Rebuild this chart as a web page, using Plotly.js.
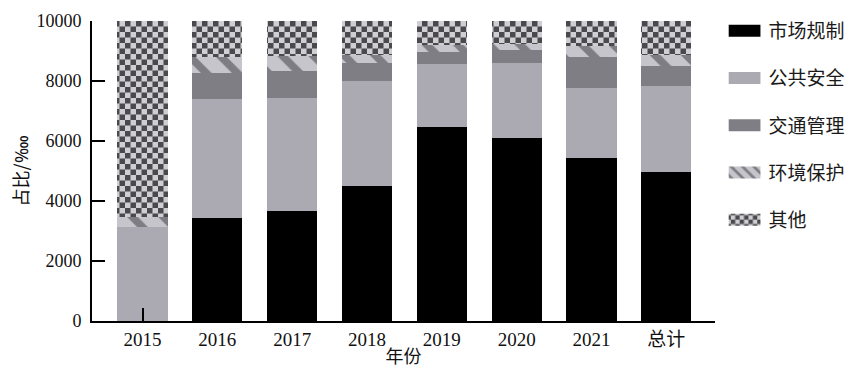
<!DOCTYPE html>
<html>
<head>
<meta charset="utf-8">
<script src="https://cdn.plot.ly/plotly-3.0.1.min.js"></script>
<style>
  html, body { margin: 0; padding: 0; background: #fff; }
  #chart { width: 850px; height: 368px; }
</style>
</head>
<body>
<div id="chart"></div>
<script>
const categories = ['2015', '2016', '2017', '2018', '2019', '2020', '2021', '总计'];
const seriesNames = ['市场规制', '公共安全', '交通管理', '环境保护', '其他'];
const market  = [0,    3420, 3670, 4510, 6480, 6110, 5420, 4980];
const safety  = [3120, 3970, 3760, 3500, 2090, 2480, 2340, 2850];
const traffic = [0,    890,  890,  580,  410,  440,  1050, 680];
const envir   = [340,  530,  500,  280,  220,  220,  360,  360];
const other   = [6540, 1190, 1180, 1130, 800,  750,  830,  1130];
const yTicks  = [0, 2000, 4000, 6000, 8000, 10000];

const serif = 'Liberation Serif, Times New Roman, Noto Sans CJK SC, serif';
const cjk = 'Noto Sans CJK SC, sans-serif';

function bar(name, values, marker) {
  return {
    type: 'bar', name: name, x: categories, y: values,
    legendgroup: name,
    marker: Object.assign({ line: { width: 0 } }, marker),
    hoverinfo: 'skip'
  };
}

const data = [
  bar(seriesNames[0], market, { color: '#000000' }),
  bar(seriesNames[1], safety, { color: '#abaab2' }),
  bar(seriesNames[2], traffic, { color: '#7f7e84' }),
  bar(seriesNames[3], envir, {
    color: '#c6c5cb',
    pattern: { shape: '\\', bgcolor: '#c6c5cb', fgcolor: '#7e7d83', size: 22, solidity: 0.35, fillmode: 'replace' }
  }),
  bar(seriesNames[4], other, {
    color: '#cfcfd3',
    pattern: { shape: '.', bgcolor: '#cfcfd3', fgcolor: '#4a4a4e', size: 11, solidity: 0.5, fillmode: 'replace' }
  })
];

const layout = {
  width: 850, height: 368,
  margin: { l: 92, r: 135, t: 21, b: 47 },
  paper_bgcolor: '#ffffff', plot_bgcolor: '#ffffff',
  barmode: 'stack', bargap: 0.33,
  showlegend: true,
  legend: {
    xref: 'container', yref: 'container',
    x: 0.857, xanchor: 'left', y: 0.9674, yanchor: 'top',
    maxheight: 1,
    traceorder: 'grouped', tracegroupgap: 19.5,
    font: { family: cjk, size: 19, color: '#1a1a1a' },
    bgcolor: 'rgba(0,0,0,0)'
  },
  xaxis: {
    type: 'category', range: [-0.675, 7.65],
    showline: true, linecolor: '#000', linewidth: 2,
    ticks: 'inside', ticklen: 13, tickwidth: 2, tickcolor: '#000',
    showgrid: false, zeroline: false,
    tickfont: { family: serif, size: 19, color: '#111' },
    title: { text: '年份', font: { family: cjk, size: 18, color: '#111' }, standoff: 16 }
  },
  yaxis: {
    range: [0, 10000], tickvals: yTicks, ticktext: yTicks.map(String),
    showline: true, linecolor: '#000', linewidth: 2,
    ticks: 'inside', ticklen: 13, tickwidth: 2, tickcolor: '#000',
    ticklabelstandoff: 5,
    showgrid: false, zeroline: false,
    tickfont: { family: serif, size: 18, color: '#111' },
    title: { text: '占比/‱', font: { family: cjk, size: 18, color: '#111' }, standoff: 3 }
  }
};

Plotly.newPlot('chart', data, layout, { staticPlot: true, displayModeBar: false }).then(function (gd) {
  // Turn the dot texture into a checkerboard tile
  const NS = 'http://www.w3.org/2000/svg';
  gd.querySelectorAll('pattern').forEach(function (p) {
    if (!p.querySelector('circle')) return;
    const s = 11, h = s / 2;
    while (p.firstChild) p.removeChild(p.firstChild);
    p.setAttribute('width', s); p.setAttribute('height', s);
    p.setAttribute('patternUnits', 'userSpaceOnUse');
    [[0, 0, s, s, '#cfcfd3'], [0, 0, h, h, '#4a4a4e'], [h, h, h, h, '#4a4a4e']].forEach(function (r) {
      const el = document.createElementNS(NS, 'rect');
      el.setAttribute('x', r[0]); el.setAttribute('y', r[1]);
      el.setAttribute('width', r[2]); el.setAttribute('height', r[3]);
      el.setAttribute('fill', r[4]);
      p.appendChild(el);
    });
  });
  // Wider legend swatches
  gd.querySelectorAll('.legend .legendpoints path').forEach(function (el) {
    el.setAttribute('d', 'M12,6H-20V-6H12Z');
  });
});
</script>
</body>
</html>
